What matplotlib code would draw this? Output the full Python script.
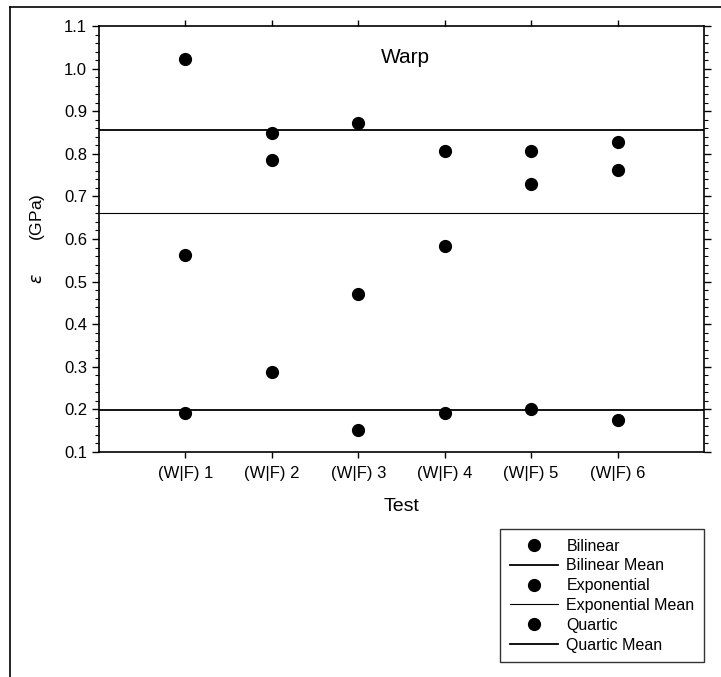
import numpy as np
import matplotlib
matplotlib.use("Agg")
import matplotlib.pyplot as plt
from matplotlib.lines import Line2D
from matplotlib.ticker import MultipleLocator, FormatStrFormatter

plt.rcParams['font.family'] = ['Liberation Sans', 'DejaVu Sans']

# tests on the x axis
tests = ["(W|F) 1", "(W|F) 2", "(W|F) 3", "(W|F) 4", "(W|F) 5", "(W|F) 6"]
test_pos = [1, 2, 3, 4, 5, 6]

# modulus values (GPa)
bilinear = [1.022, 0.786, 0.873, 0.807, 0.807, 0.827]
exponential = [0.562, 0.848, 0.472, 0.583, 0.729, 0.762]
quartic = [0.192, 0.287, 0.152, 0.191, 0.202, 0.176]

# mean lines
bilinear_mean = 0.855
exponential_mean = 0.660
quartic_mean = 0.199

fig = plt.figure(figsize=(7.21, 6.77), dpi=100)
ax = fig.add_axes([99 / 721, 1 - 452 / 677, (704 - 99) / 721, (452 - 26) / 677])

ms = 8.5
ax.plot(test_pos, bilinear, 'o', color='black', ms=ms, label='Bilinear')
ax.axhline(bilinear_mean, color='black', lw=1.3, label='Bilinear Mean')
ax.plot(test_pos, exponential, 'o', color='black', ms=ms, label='Exponential')
ax.axhline(exponential_mean, color='black', lw=0.8, label='Exponential Mean')
ax.plot(test_pos, quartic, 'o', color='black', ms=ms, label='Quartic')
ax.axhline(quartic_mean, color='black', lw=1.3, label='Quartic Mean')

ax.set_xlim(0, 7)
ax.set_ylim(0.1, 1.1)
ax.set_xticks(test_pos)
ax.set_xticklabels(tests, fontsize=12)
ax.yaxis.set_major_locator(MultipleLocator(0.1))
ax.yaxis.set_minor_locator(MultipleLocator(0.02))
ax.yaxis.set_major_formatter(FormatStrFormatter('%.1f'))
ax.tick_params(axis='y', which='major', labelsize=12, direction='out',
               length=5, width=1, right=True)
ax.tick_params(axis='y', which='minor', direction='out', length=2.8,
               width=0.8, right=True)
ax.tick_params(axis='x', which='major', direction='out', length=4, width=1,
               top=True, pad=6)
for s in ax.spines.values():
    s.set_linewidth(1.2)

ax.set_xlabel('Test', fontsize=14, labelpad=12)
ax.set_ylabel(r'$\varepsilon$       (GPa)', fontsize=12.5, labelpad=12)
ax.text(3.55, 1.025, 'Warp', fontsize=15, ha='center', va='center')

leg = fig.legend(loc='upper right', bbox_to_anchor=(704 / 721, 1 - 529 / 677),
                 fontsize=11.5, frameon=True, fancybox=False,
                 edgecolor='black', borderaxespad=0, handlelength=3.0,
                 handletextpad=0.55, labelspacing=0.3, borderpad=0.6)
leg.get_frame().set_linewidth(1.0)

# outer frame of the scanned page
fig.add_artist(Line2D([10 / 721, 10 / 721], [0, 1 - 7 / 677], color='black', lw=1.2))
fig.add_artist(Line2D([10 / 721, 1], [1 - 7 / 677, 1 - 7 / 677], color='black', lw=1.2))

fig.savefig('out.png', dpi=100)
